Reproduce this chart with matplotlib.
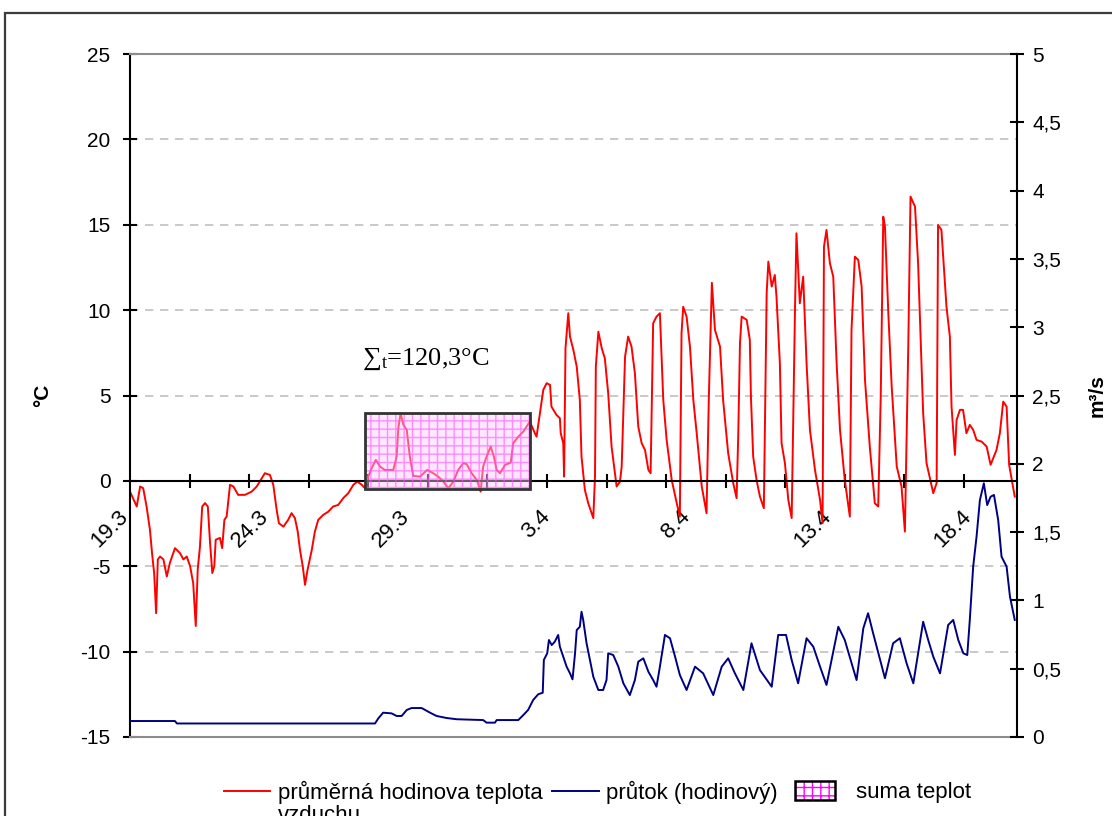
import matplotlib
matplotlib.use("Agg")
import matplotlib.pyplot as plt
from matplotlib.patches import Rectangle, Patch
from matplotlib.transforms import ScaledTranslation
from matplotlib.ticker import MultipleLocator, FixedLocator, FuncFormatter

plt.rcParams['font.family'] = ['Liberation Sans', 'DejaVu Sans']
plt.rcParams['axes.unicode_minus'] = False
plt.rcParams['mathtext.fontset'] = 'custom'
plt.rcParams['mathtext.rm'] = 'Liberation Serif'
plt.rcParams['mathtext.it'] = 'Liberation Serif:italic'

# time in days since 19.3 00:00
days_t = [0, 0.24, 0.36, 0.47, 0.59, 0.71, 0.79, 0.86, 0.93, 0.99,
          1.07, 1.19, 1.31, 1.42, 1.6, 1.78, 1.9, 2.02, 2.14, 2.25,
          2.34, 2.41, 2.49, 2.57, 2.67, 2.77, 2.85, 2.93, 3.0, 3.05,
          3.2, 3.28, 3.36, 3.44, 3.56, 3.68, 3.85, 4.09, 4.33, 4.51,
          4.69, 4.8, 4.98, 5.1, 5.22, 5.3, 5.46, 5.63, 5.75, 5.87,
          5.97, 6.05, 6.15, 6.23, 6.32, 6.47, 6.58, 6.7, 6.88, 7.06,
          7.23, 7.41, 7.59, 7.77, 7.95, 8.09, 8.25, 8.36, 8.48, 8.6,
          8.75, 8.9, 9.07, 9.37, 9.49, 9.55, 9.63, 9.73, 9.85, 9.96,
          10.08, 10.32, 10.58, 10.79, 10.97, 11.15, 11.33, 11.51, 11.68, 11.86,
          11.98, 12.16, 12.34, 12.48, 12.57, 12.69, 12.84, 12.95, 13.05, 13.17,
          13.35, 13.55, 13.64, 13.82, 14.0, 14.23, 14.41, 14.47, 14.59, 14.71,
          14.83, 14.95, 15.0, 15.18, 15.3, 15.33, 15.42, 15.45, 15.5, 15.6,
          15.66, 15.78, 15.9, 16.01, 16.07, 16.19, 16.31, 16.49, 16.55, 16.58,
          16.67, 16.79, 16.9, 17.02, 17.14, 17.32, 17.44, 17.5, 17.62, 17.73,
          17.85, 17.97, 18.09, 18.21, 18.33, 18.45, 18.53, 18.62, 18.74, 18.86,
          18.98, 19.1, 19.28, 19.46, 19.57, 19.63, 19.69, 19.81, 19.93, 20.05,
          20.17, 20.35, 20.52, 20.6, 20.71, 20.82, 21.0, 21.11, 21.29, 21.47,
          21.59, 21.65, 21.71, 21.77, 21.95, 22.06, 22.1, 22.18, 22.3, 22.42,
          22.56, 22.66, 22.72, 22.84, 22.95, 23.01, 23.13, 23.19, 23.31, 23.43,
          23.55, 23.67, 23.72, 23.84, 23.96, 24.08, 24.2, 24.38, 24.56, 24.65,
          24.7, 24.79, 24.91, 25.03, 25.15, 25.27, 25.44, 25.62, 25.68, 25.8,
          25.92, 26.04, 26.16, 26.33, 26.51, 26.63, 26.72, 26.81, 26.87, 26.99,
          27.11, 27.29, 27.46, 27.58, 27.7, 27.78, 27.94, 28.05, 28.23, 28.35,
          28.59, 28.71, 28.76, 28.88, 29.06, 29.18, 29.24, 29.36, 29.42, 29.54,
          29.65, 29.77, 29.89, 30.01, 30.13, 30.31, 30.49, 30.63, 30.84, 30.96,
          31.08, 31.2, 31.29, 31.49]

# mean hourly air temperature (°C)
temp = [-0.63, -1.5, -0.33, -0.43, -1.5, -2.87, -4.33, -5.4, -7.75, -4.6,
        -4.43, -4.6, -5.6, -4.8, -3.94, -4.23, -4.6, -4.43, -5.0, -6.0,
        -8.5, -5.2, -3.85, -1.5, -1.3, -1.5, -3.65, -5.4, -5.0, -3.45,
        -3.34, -3.94, -2.28, -2.09, -0.23, -0.33, -0.82, -0.82, -0.63, -0.33,
        0.16, 0.45, 0.35, -0.23, -1.7, -2.48, -2.68, -2.28, -1.89, -2.18,
        -2.97, -4.04, -5.02, -6.09, -5.21, -4.04, -2.97, -2.28, -1.99, -1.8,
        -1.5, -1.41, -1.01, -0.72, -0.23, -0.04, -0.23, -0.43, 0.25, 0.74,
        1.23, 0.84, 0.64, 0.64, 1.42, 3.09, 3.96, 3.28, 2.99, 1.42,
        0.29, 0.25, 0.64, 0.45, 0.25, -0.04, -0.43, -0.04, 0.64, 1.04,
        0.98, 0.45, 0.06, -0.63, 0.84, 1.42, 2.01, 1.42, 0.64, 0.45,
        0.94, 1.07, 2.21, 2.59, 2.89, 3.47, 2.79, 2.59, 3.96, 5.33,
        5.72, 5.62, 4.35, 3.86, 3.67, 2.79, 2.21, 0.25, 7.77, 9.82,
        8.45, 7.67, 6.69, 4.74, 1.42, -0.53, -1.31, -2.18, 0.25, 6.69,
        8.74, 7.77, 7.18, 5.13, 2.01, -0.33, -0.04, 0.84, 7.28, 8.45,
        7.86, 6.31, 3.18, 2.21, 1.81, 0.64, 0.45, 9.23, 9.62, 9.82,
        4.74, 2.4, 0.06, -1.31, -2.09, 8.65, 10.2, 9.62, 7.86, 4.74,
        2.79, -0.33, -1.89, 4.74, 11.6, 8.84, 7.86, 4.74, 1.62, -0.13,
        -1.01, 2.79, 8.06, 9.62, 9.43, 8.26, 4.94, 1.42, 0.06, -0.92,
        -1.6, 10.99, 12.84, 11.38, 12.06, 10.79, 6.89, 2.21, 1.04, -1.11,
        -2.18, 10.2, 14.5, 10.4, 11.96, 6.89, 2.99, 0.64, -1.11, -2.48,
        13.72, 14.7, 12.75, 11.96, 6.89, 2.99, 0.06, -2.09, 8.84, 13.13,
        12.94, 11.38, 5.91, 2.01, -1.31, -1.5, 4.94, 15.47, 14.89, 9.82,
        5.52, 0.84, -0.33, -2.97, 7.86, 16.65, 16.06, 12.75, 3.96, 1.04,
        -0.72, -0.13, 14.99, 14.7, 10.2, 8.45, 4.35, 1.52, 3.57, 4.16,
        4.16, 2.79, 3.28, 2.99, 2.4, 2.3, 2.01, 0.94, 1.81, 2.79,
        4.64, 4.35, 0.94, -0.92]

days_q = [0, 1.6, 1.67, 8.72, 8.84, 9.01, 9.31, 9.49, 9.67, 9.85,
          10.02, 10.38, 10.68, 10.91, 11.27, 11.63, 12.57, 12.69, 12.99, 13.05,
          13.82, 14.0, 14.17, 14.35, 14.53, 14.69, 14.73, 14.85, 14.91, 15.01,
          15.12, 15.24, 15.3, 15.42, 15.54, 15.66, 15.75, 15.84, 15.9, 16.01,
          16.07, 16.13, 16.25, 16.37, 16.49, 16.67, 16.84, 16.96, 17.02, 17.2,
          17.38, 17.56, 17.79, 17.97, 18.09, 18.27, 18.45, 18.62, 18.74, 18.86,
          19.04, 19.22, 19.4, 19.57, 19.81, 20.11, 20.4, 20.76, 21.06, 21.29,
          21.53, 21.83, 22.12, 22.42, 22.84, 23.07, 23.35, 23.55, 23.78, 24.08,
          24.32, 24.56, 24.79, 25.21, 25.44, 25.86, 26.1, 26.27, 26.45, 26.87,
          27.16, 27.4, 27.64, 27.88, 28.23, 28.41, 28.59, 28.83, 29.12, 29.3,
          29.48, 29.66, 29.8, 29.89, 30.01, 30.13, 30.25, 30.39, 30.51, 30.63,
          30.75, 30.9, 31.02, 31.2, 31.32, 31.49]

# hourly discharge (m3/s)
flow = [0.117, 0.117, 0.099, 0.099, 0.137, 0.178, 0.173, 0.154, 0.154, 0.198,
        0.212, 0.212, 0.178, 0.154, 0.139, 0.13, 0.124, 0.105, 0.105, 0.124,
        0.124, 0.161, 0.198, 0.271, 0.313, 0.324, 0.564, 0.613, 0.71, 0.673,
        0.698, 0.747, 0.661, 0.588, 0.515, 0.466, 0.422, 0.613, 0.783, 0.807,
        0.917, 0.857, 0.686, 0.564, 0.441, 0.344, 0.344, 0.417, 0.613, 0.6,
        0.515, 0.393, 0.307, 0.417, 0.551, 0.576, 0.478, 0.417, 0.368, 0.515,
        0.747, 0.723, 0.588, 0.454, 0.344, 0.515, 0.466, 0.307, 0.515, 0.576,
        0.466, 0.344, 0.686, 0.49, 0.368, 0.747, 0.747, 0.564, 0.393, 0.723,
        0.661, 0.515, 0.381, 0.807, 0.71, 0.417, 0.796, 0.906, 0.759, 0.43,
        0.686, 0.723, 0.54, 0.393, 0.844, 0.71, 0.588, 0.466, 0.82, 0.857,
        0.71, 0.613, 0.6, 0.857, 1.247, 1.466, 1.735, 1.857, 1.698, 1.759,
        1.772, 1.589, 1.32, 1.247, 1.027, 0.857]

# temperature-sum window
sum_start, sum_end = 8.36, 14.23
sum_low, sum_high = -0.5, 4.0
sum_text = r'$\mathrm{∑}_{\mathrm{t}}$=120,3°C'

date_pos = [0, 5, 10, 15, 20, 25, 30]
date_labels = ['19.3', '24.3', '29.3', '3.4', '8.4', '13.4', '18.4']
x_end = 31.57

W, H = 1112, 816
fig = plt.figure(figsize=(W / 100, H / 100), dpi=100)
fig.patch.set_facecolor('white')
ax = fig.add_axes([130 / W, 1 - 737 / H, 887 / W, 683 / H])
ax.set_xlim(0, x_end)
ax.set_ylim(-15, 25)

tick_fs = 15
ax.yaxis.set_major_locator(MultipleLocator(5))
ax.grid(axis='y', color='#c0c0c0', linestyle=(0, (5, 4)), linewidth=1.2)
ax.set_axisbelow(True)

ax.spines['left'].set_color('black')
ax.spines['left'].set_linewidth(1.5)
ax.spines['right'].set_visible(False)
ax.spines['top'].set_color('#8c8c8c')
ax.spines['top'].set_linewidth(1.5)
ax.spines['bottom'].set_position(('data', 0))
ax.spines['bottom'].set_color('black')
ax.spines['bottom'].set_linewidth(1.5)
ax.axhline(-15, color='#8c8c8c', lw=1.5, clip_on=False, zorder=5)

ax.xaxis.set_major_locator(FixedLocator(date_pos))
ax.set_xticklabels(date_labels, rotation=45, ha='right', va='top',
                   rotation_mode='anchor', fontsize=16)
ax.tick_params(axis='x', which='major', length=0, pad=18)
shift = ScaledTranslation(-12 / 100, 0, fig.dpi_scale_trans)
for lab in ax.get_xticklabels():
    lab.set_transform(lab.get_transform() + shift)
ax.xaxis.set_minor_locator(MultipleLocator(2.12))
ax.tick_params(axis='x', which='minor', direction='inout', length=10,
               width=1.5, color='black')
ax.tick_params(axis='y', direction='inout', length=10, width=1.5,
               labelsize=tick_fs, pad=9)
ax.set_ylabel('°C', fontsize=15, fontweight='bold')
ax.yaxis.set_label_coords(-0.088, 0.5)

line_t, = ax.plot(days_t, temp, color='#ff0000', lw=1.4, zorder=2)

# hatched temperature-sum box drawn translucent over the curve
ax.add_patch(Rectangle((sum_start, sum_low), sum_end - sum_start,
                       sum_high - sum_low, facecolor=(1, 0.8, 1, 0.45),
                       edgecolor=(1, 0.3, 1, 0.6), hatch='++', lw=0,
                       zorder=3))
ax.add_patch(Rectangle((sum_start, sum_low), sum_end - sum_start,
                       sum_high - sum_low, facecolor='none',
                       edgecolor='#333333', lw=2, zorder=4))
ax.text(8.27, 6.8, sum_text, fontsize=19, family='Liberation Serif',
        ha='left', va='baseline')

ax2 = ax.twinx()
ax2.set_ylim(0, 5)
ax2.set_xlim(0, x_end)
for s in ('left', 'top', 'bottom'):
    ax2.spines[s].set_visible(False)
ax2.spines['right'].set_color('black')
ax2.spines['right'].set_linewidth(1.5)
ax2.yaxis.set_major_locator(MultipleLocator(0.5))
ax2.yaxis.set_major_formatter(
    FuncFormatter(lambda v, p: ('%g' % v).replace('.', ',')))
ax2.tick_params(axis='y', direction='inout', length=10, width=1.5,
                labelsize=tick_fs, pad=6)
ax2.set_ylabel('m³/s', fontsize=15, fontweight='bold')
ax2.yaxis.set_label_coords(1.08, 0.5)
line_q, = ax2.plot(days_q, flow, color='#000080', lw=1.4)

# legend: three entries laid out along the bottom edge
leg_fs = 16
leg_kw = dict(loc='upper left', frameon=False, fontsize=leg_fs, borderpad=0,
              borderaxespad=0)
leg1 = fig.legend([line_t], ['průměrná hodinova teplota'],
                  bbox_to_anchor=(224 / W, 1 - 781 / H), handlelength=2.05,
                  handletextpad=0.36, **leg_kw)
leg2 = fig.legend([line_q], ['průtok (hodinový)'],
                  bbox_to_anchor=(552 / W, 1 - 781 / H), handlelength=2.1,
                  handletextpad=0.33, **leg_kw)
box_handle = (Patch(facecolor='white', edgecolor='#ff00ff', hatch='++', lw=0),
              Patch(facecolor='none', edgecolor='black', lw=1.8))
leg3 = fig.legend([box_handle], ['suma teplot'],
                  bbox_to_anchor=(795 / W, 1 - 781 / H), handlelength=1.8,
                  handleheight=0.95, handletextpad=0.95, **leg_kw)
# wrapped second line of the first legend label
fig.text(278 / W, 1 - 821 / H, 'vzduchu', fontsize=leg_fs,
         ha='left', va='baseline')

# outer chart frame
fig.add_artist(Rectangle((5 / W, -0.2), 1.5, 1 - 13 / H + 0.2,
                         transform=fig.transFigure, fill=False,
                         edgecolor='#3c3c3c', lw=1.6))

fig.savefig('out.png', dpi=100)
